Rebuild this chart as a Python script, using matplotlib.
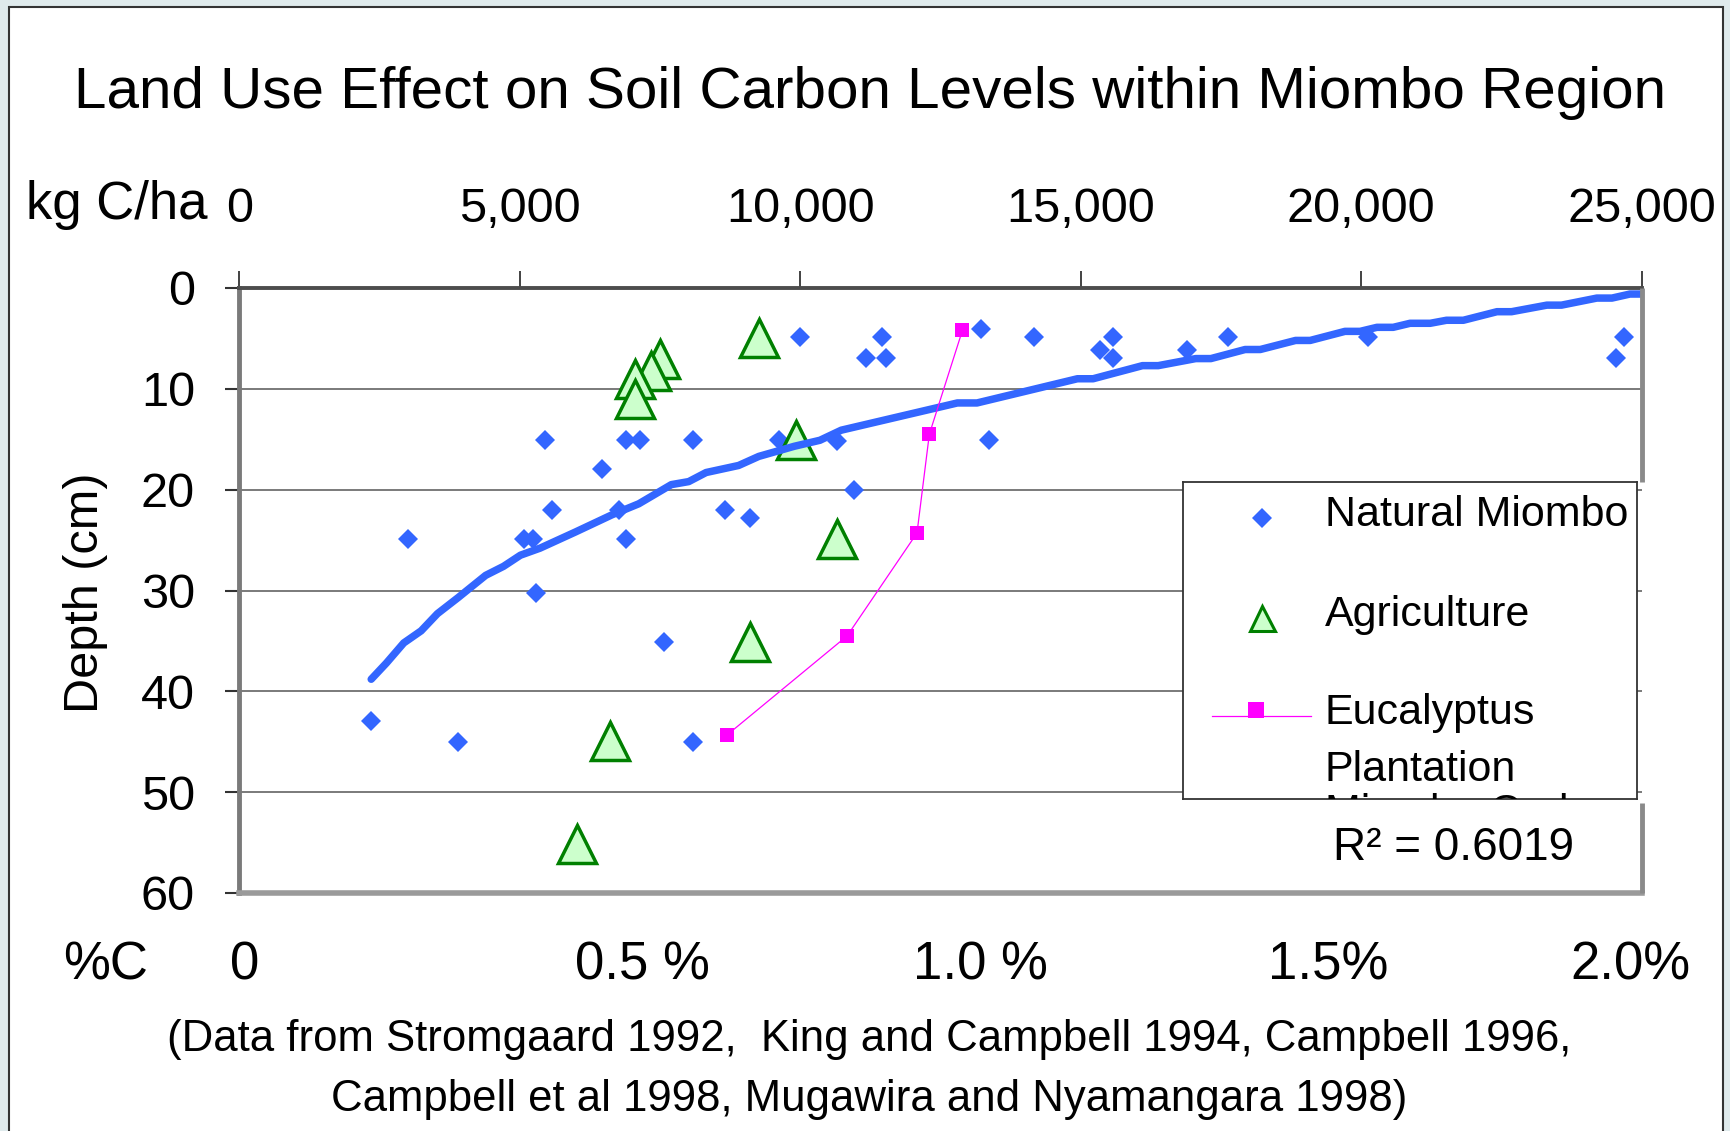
import matplotlib.pyplot as plt
from matplotlib.patches import Rectangle

plt.rcParams['font.family'] = ['Liberation Sans', 'DejaVu Sans']

W, H = 1730, 1131

# Natural Miombo samples: kg C/ha and depth (cm)
miombo_kg = [2350, 3010, 3890, 5440, 5065, 5234, 5290, 5577, 6463, 6764,
             6900, 7138, 6900, 7568, 8080, 8080, 8666, 9110, 9614, 9993,
             10647, 10950, 11171, 11458, 11531, 13218, 13369, 14173, 15343, 15573,
             15573, 16894, 17627, 20127, 24537, 24685]
miombo_depth = [42.9, 24.9, 45.0, 15.1, 24.9, 24.9, 30.2, 22.0, 18.0, 22.0,
                15.1, 15.1, 24.9, 35.1, 15.1, 45.0, 22.0, 22.85, 15.1, 4.9,
                15.2, 20.0, 6.9, 4.9, 6.9, 4.1, 15.1, 4.9, 6.15, 4.9,
                6.9, 6.1, 4.9, 4.9, 6.9, 4.9]

# Agriculture
agri_kg = [9260, 7500, 7340, 7050, 7050, 9920, 10650, 9110, 6610, 6020]
agri_depth = [5.0, 7.0, 8.2, 9.0, 11.0, 15.1, 24.9, 35.1, 44.9, 55.1]

# Eucalyptus plantation
euc_kg = [12890, 12300, 12080, 10835, 8700]
euc_depth = [4.2, 14.5, 24.3, 34.5, 44.3]

# Miombo carbon trend line as drawn
trend_kg = [2350, 2620, 2930, 3240, 3530, 3900, 4390, 4710, 5010, 5360,
            5990, 6640, 7120, 7700, 8010, 8320, 8900, 9260, 9890, 10350,
            10730, 12800, 13150, 14940, 15220, 16100, 16380, 17050, 17320, 17930,
            18200, 18830, 19090, 19710, 19980, 20280, 20570, 20870, 21230, 21520,
            21820, 22420, 22680, 23310, 23570, 24200, 24470, 24790, 25050]
trend_depth = [38.8, 37.2, 35.2, 34.0, 32.3, 30.7, 28.5, 27.6, 26.5, 25.8,
               24.2, 22.5, 21.4, 19.5, 19.2, 18.3, 17.6, 16.7, 15.7, 15.1,
               14.1, 11.4, 11.4, 9.0, 9.0, 7.7, 7.7, 7.0, 7.0, 6.1,
               6.1, 5.2, 5.2, 4.3, 4.3, 3.9, 3.9, 3.5, 3.5, 3.2,
               3.2, 2.35, 2.35, 1.7, 1.7, 1.0, 1.0, 0.6, 0.6]

kg_ticks = [0, 5000, 10000, 15000, 20000, 25000]
kg_labels = ['0', '5,000', '10,000', '15,000', '20,000', '25,000']
depth_ticks = [0, 10, 20, 30, 40, 50, 60]
pct_labels = ['0', '0.5 %', '1.0 %', '1.5%', '2.0%']
pct_x = [245, 642, 980, 1328, 1630]

blue = '#3366ff'
green = '#008000'
light_green = '#ccffcc'
magenta = '#ff00ff'


def fx(px):
    return px / W


def fy(py):
    return 1 - py / H


fig = plt.figure(figsize=(W / 100, H / 100), dpi=100)
fig.patch.set_facecolor('#dfeaec')
fig.patches.append(Rectangle((fx(8.5), -0.02), fx(1723 - 8.5), 1.02 - 7.5 / H,
                             transform=fig.transFigure, facecolor='white',
                             edgecolor='#333333', lw=1.5, zorder=-1))

ax = fig.add_axes([fx(239.4), fy(893), fx(1641.7 - 239.4), (893 - 288) / H])
ax.set_facecolor('white')

ax.plot(miombo_kg, miombo_depth, 'D', color=blue, ms=10, mew=0, zorder=3)
ax.plot(agri_kg, agri_depth, '^', mfc=light_green, mec=green, ms=28, mew=2.5,
        ls='none', zorder=4)
ax.plot(trend_kg, trend_depth, color=blue, lw=5.4, solid_capstyle='round',
        zorder=5)
ax.plot(euc_kg, euc_depth, color=magenta, lw=0.9, marker='s', ms=10.5,
        mfc=magenta, mec=magenta, mew=0, zorder=6)

ax.set_xlim(0, 25000)
ax.set_ylim(60, 0)
ax.xaxis.tick_top()
ax.set_xticks(kg_ticks)
ax.set_xticklabels(kg_labels)
ax.set_yticks(depth_ticks)
ax.tick_params(axis='x', top=True, bottom=False, labeltop=True, labelbottom=False,
               direction='out', length=12, width=1.2, color='#222222',
               labelsize=35, pad=28)
ax.tick_params(axis='y', direction='out', length=10, width=1.5, color='#333333',
               labelsize=35, pad=22)
ax.grid(axis='y', color='#6f6f6f', lw=1.3)
ax.set_axisbelow(True)

ax.spines['top'].set_color('#4d4d4d')
ax.spines['top'].set_linewidth(2.8)
ax.spines['left'].set_color('#7a7a7a')
ax.spines['left'].set_linewidth(3.5)
ax.spines['bottom'].set_color('#9a9a9a')
ax.spines['bottom'].set_linewidth(4)
ax.spines['right'].set_visible(False)
for seg in ([1.0, 0.679], [0.149, 0.0]):
    ax.plot([1, 1], seg, transform=ax.transAxes, color='#8a8a8a', lw=3.5,
            clip_on=False, solid_capstyle='butt', zorder=7)

# legend box
lax = fig.add_axes([fx(1183.3), fy(799.3), fx(1637.3 - 1183.3), (799.3 - 481.7) / H],
                   zorder=5)
lax.set_xlim(1183.3, 1637.3)
lax.set_ylim(799.3, 481.7)
lax.set_xticks([])
lax.set_yticks([])
for s in lax.spines.values():
    s.set_color('#333333')
    s.set_linewidth(1.3)
lax.plot([1261.7], [518.3], 'D', color=blue, ms=10, mew=0)
lax.plot([1261.7], [617.7], '^', mfc=light_green, mec=green, ms=18, mew=2.2)
lax.plot([1211.7, 1311], [716.3, 716.3], color=magenta, lw=0.9)
lax.plot([1255.7], [710.3], 's', color=magenta, ms=11, mew=0)
leg_texts = [('Natural Miombo', 515), ('Agriculture', 615), ('Eucalyptus', 713),
             ('Plantation', 770), ('Miombo Carbon', 813)]
for label, yy in leg_texts:
    lax.text(1325, yy, label, fontsize=31, va='center', ha='left', clip_on=True)

# texts
fig.text(fx(870), fy(108), 'Land Use Effect on Soil Carbon Levels within Miombo Region',
         fontsize=42, ha='center', va='baseline')
fig.text(fx(26), fy(219), 'kg C/ha', fontsize=38, ha='left', va='baseline')
fig.text(fx(86), fy(593), 'Depth (cm)', fontsize=35, rotation=90,
         ha='center', va='center')
fig.text(fx(1333), fy(860), 'R² = 0.6019', fontsize=33, ha='left', va='baseline')
fig.text(fx(63), fy(979), '%C', fontsize=38, ha='left', va='baseline')
for lab, xx in zip(pct_labels, pct_x):
    fig.text(fx(xx), fy(979), lab, fontsize=38, ha='center', va='baseline')
fig.text(fx(869), fy(1039),
         '(Data from Stromgaard 1992,  King and Campbell 1994, Campbell 1996,',
         fontsize=31.5, ha='center', va='center')
fig.text(fx(869), fy(1100),
         'Campbell et al 1998, Mugawira and Nyamangara 1998)',
         fontsize=31.5, ha='center', va='center')

fig.savefig('out.png', dpi=100, facecolor=fig.get_facecolor())
